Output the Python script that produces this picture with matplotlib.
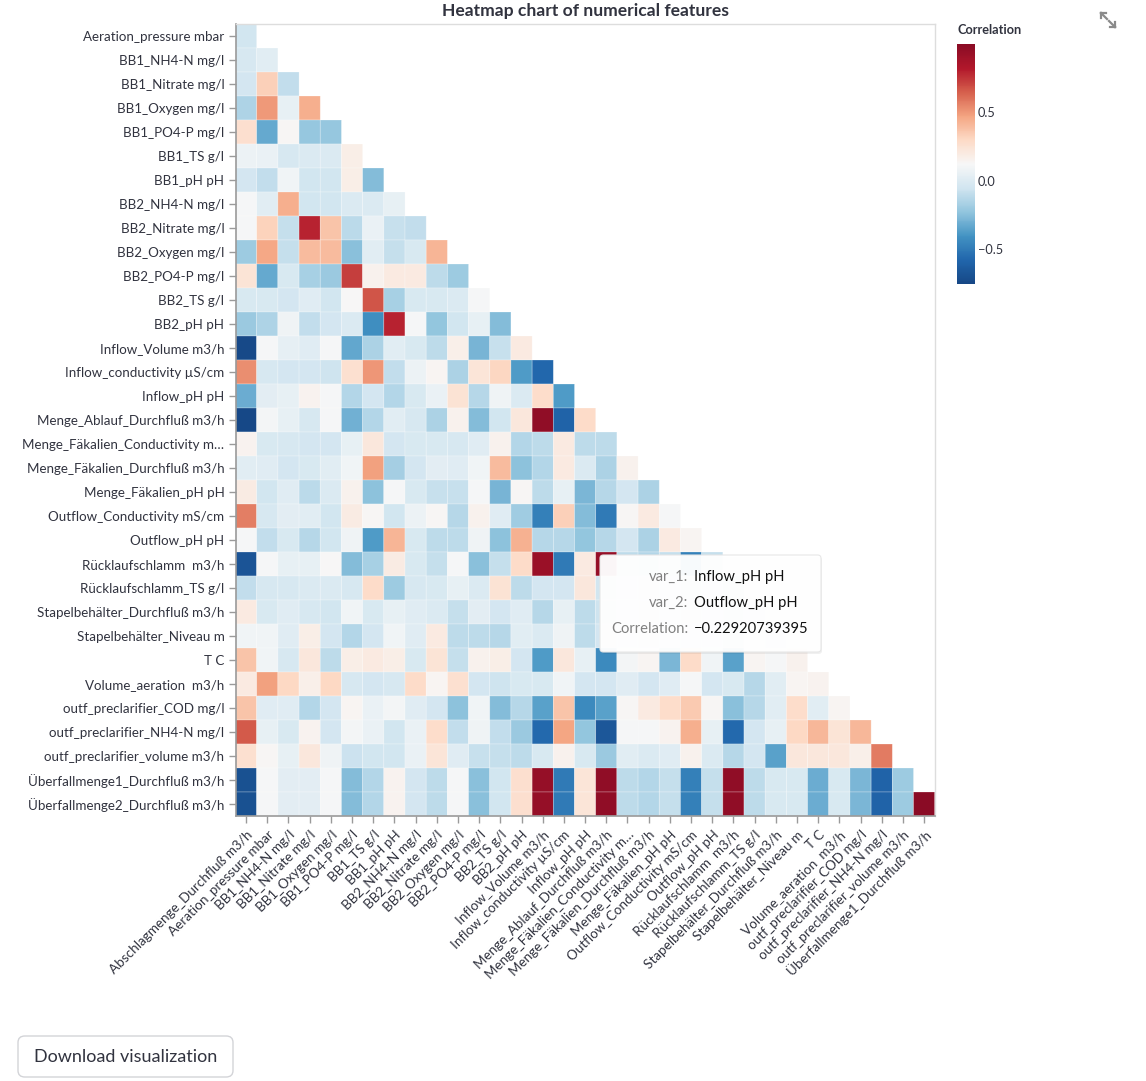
import numpy as np
import matplotlib.pyplot as plt
from matplotlib.colors import LinearSegmentedColormap, Normalize
from matplotlib.patches import FancyBboxPatch
from matplotlib.lines import Line2D

plt.rcParams['font.family'] = ['Lato', 'DejaVu Sans']

W, H = 1146, 1081

features = [
    "Abschlagmenge_Durchfluß m3/h", "Aeration_pressure mbar", "BB1_NH4-N mg/l",
    "BB1_Nitrate mg/l", "BB1_Oxygen mg/l", "BB1_PO4-P mg/l", "BB1_TS g/l", "BB1_pH pH",
    "BB2_NH4-N mg/l", "BB2_Nitrate mg/l", "BB2_Oxygen mg/l", "BB2_PO4-P mg/l",
    "BB2_TS g/l", "BB2_pH pH", "Inflow_Volume m3/h", "Inflow_conductivity µS/cm",
    "Inflow_pH pH", "Menge_Ablauf_Durchfluß m3/h", "Menge_Fäkalien_Conductivity m…",
    "Menge_Fäkalien_Durchfluß m3/h", "Menge_Fäkalien_pH pH", "Outflow_Conductivity mS/cm",
    "Outflow_pH pH", "Rücklaufschlamm  m3/h", "Rücklaufschlamm_TS g/l",
    "Stapelbehälter_Durchfluß m3/h", "Stapelbehälter_Niveau m", "T C",
    "Volume_aeration  m3/h", "outf_preclarifier_COD mg/l", "outf_preclarifier_NH4-N mg/l",
    "outf_preclarifier_volume m3/h", "Überfallmenge1_Durchfluß m3/h",
    "Überfallmenge2_Durchfluß m3/h",
]

# lower triangle of the correlation matrix: row i = features[i+1], columns features[0..i]
corr_rows = [
    [-0.05],
    [-0.03, 0.02],
    [-0.04, 0.33, -0.10],
    [-0.15, 0.50, 0.05, 0.44],
    [0.27, -0.33, 0.13, -0.22, -0.22],
    [0.07, 0.06, -0.03, -0.01, -0.01, 0.18],
    [-0.04, -0.10, 0.09, -0.05, -0.05, 0.18, -0.26],
    [0.11, 0.02, 0.44, -0.05, -0.05, -0.01, -0.01, 0.05],
    [0.11, 0.32, -0.09, 0.80, 0.37, -0.12, 0.06, -0.08, -0.10],
    [-0.20, 0.46, -0.09, 0.40, 0.40, -0.25, 0.02, -0.09, -0.02, 0.42],
    [0.24, -0.33, -0.02, -0.17, -0.21, 0.73, 0.16, 0.20, 0.20, -0.11, -0.20],
    [-0.02, -0.02, -0.04, 0.01, -0.05, 0.12, 0.67, -0.17, -0.02, -0.02, -0.01, 0.11],
    [-0.21, -0.15, 0.08, -0.10, -0.04, -0.01, -0.43, 0.80, 0.11, -0.23, -0.05, 0.05, -0.26],
    [-0.74, 0.11, 0.04, 0.01, 0.11, -0.34, -0.16, 0.02, -0.02, -0.11, 0.17, -0.29, -0.08, 0.20],
    [0.53, -0.03, -0.04, -0.04, -0.06, 0.26, 0.51, -0.10, 0.07, 0.14, -0.16, 0.23, 0.31, -0.38,
     -0.58],
    [-0.32, 0.03, 0.05, 0.15, 0.11, -0.14, -0.04, -0.14, -0.02, 0.06, 0.25, -0.13, 0.08, -0.01,
     0.28, -0.38],
    [-0.75, 0.10, 0.05, -0.03, 0.11, -0.30, -0.14, 0.02, -0.03, -0.16, 0.16, -0.26, -0.05, 0.22,
     0.97, -0.60, 0.29],
    [0.15, -0.02, -0.03, -0.04, -0.04, 0.05, 0.22, -0.04, -0.02, -0.02, -0.03, 0.01, 0.16, -0.14,
     -0.11, 0.20, -0.11, -0.11],
    [0.02, 0.01, -0.04, -0.02, 0.02, 0.09, 0.48, -0.18, -0.04, 0.03, 0.01, 0.09, 0.40, -0.24,
     -0.14, 0.20, -0.01, -0.16, 0.16],
    [0.19, -0.05, 0.01, -0.12, -0.01, 0.16, -0.24, 0.11, -0.02, -0.08, -0.08, 0.11, -0.29, 0.13,
     -0.11, 0.05, -0.28, -0.13, -0.04, -0.16],
    [0.57, -0.03, 0.03, 0.02, -0.05, 0.19, 0.13, -0.05, 0.07, 0.13, -0.13, 0.16, 0.01, -0.19,
     -0.48, 0.33, -0.26, -0.50, 0.13, 0.20, 0.11],
    [0.11, -0.10, -0.02, -0.13, -0.05, 0.08, -0.38, 0.42, -0.02, -0.11, -0.11, 0.08, -0.24, 0.43,
     -0.13, -0.13, -0.2292, -0.13, -0.04, -0.16, 0.20, 0.14],
    [-0.68, 0.11, 0.05, 0.05, 0.12, -0.26, -0.17, 0.19, -0.02, -0.09, 0.11, -0.25, -0.09, 0.29,
     0.93, -0.50, 0.20, 0.95, -0.11, -0.14, -0.09, -0.48, -0.09],
    [-0.10, -0.03, -0.03, -0.01, -0.01, -0.03, 0.29, -0.20, -0.03, -0.02, 0.05, -0.01, 0.25, -0.11,
     -0.04, -0.04, 0.22, -0.05, 0.05, -0.02, 0.03, -0.05, 0.05, -0.08],
    [0.20, -0.02, 0.01, -0.03, -0.05, 0.09, -0.02, 0.05, 0.01, -0.01, -0.09, 0.03, -0.04, 0.01,
     -0.13, 0.05, -0.11, -0.06, 0.02, -0.03, 0.04, -0.02, 0.01, -0.05, 0.03],
    [0.09, 0.09, 0.01, 0.18, -0.04, -0.14, -0.04, 0.09, 0.01, 0.20, -0.11, -0.11, -0.13, 0.02,
     -0.01, 0.08, -0.11, -0.04, 0.06, -0.03, 0.02, 0.00, 0.05, -0.06, 0.10, 0.04],
    [0.37, 0.09, -0.03, 0.22, -0.11, 0.18, 0.20, 0.18, -0.02, 0.24, -0.09, 0.16, 0.18, -0.04,
     -0.38, 0.22, 0.05, -0.44, 0.10, 0.14, -0.28, 0.29, 0.09, -0.36, 0.14, 0.11, 0.16],
    [0.20, 0.48, 0.30, 0.17, 0.30, -0.03, -0.04, -0.03, 0.29, 0.14, 0.26, -0.04, -0.06, -0.02,
     -0.02, 0.09, -0.04, -0.04, 0.01, -0.04, 0.01, 0.11, -0.04, -0.02, -0.13, 0.02, 0.14, 0.15],
    [0.37, 0.01, 0.01, -0.14, -0.04, 0.14, 0.06, 0.10, 0.01, -0.04, -0.24, 0.09, -0.26, -0.13,
     -0.36, 0.37, -0.44, -0.36, 0.13, 0.20, 0.28, 0.35, 0.13, -0.25, -0.13, 0.02, 0.28, 0.02, 0.14],
    [0.66, 0.05, -0.02, 0.15, -0.04, 0.10, 0.06, -0.05, 0.06, 0.28, -0.10, 0.08, -0.10, -0.21,
     -0.57, 0.47, -0.23, -0.67, 0.11, 0.11, 0.15, 0.44, 0.05, -0.57, -0.04, 0.05, 0.30, 0.41, 0.24,
     0.41],
    [0.26, 0.13, 0.05, 0.22, 0.08, -0.07, -0.05, -0.05, 0.06, 0.23, 0.01, -0.08, -0.09, -0.11,
     -0.02, 0.16, -0.02, -0.21, 0.02, -0.01, 0.01, 0.16, -0.01, -0.13, -0.04, -0.36, 0.22, 0.22,
     0.22, 0.17, 0.58],
    [-0.70, 0.11, 0.03, 0.03, 0.11, -0.26, -0.14, 0.15, -0.04, -0.11, 0.11, -0.25, -0.05, 0.27,
     0.95, -0.50, 0.23, 0.97, -0.11, -0.14, -0.09, -0.48, -0.09, 0.97, -0.11, -0.02, -0.02, -0.32,
     -0.02, -0.28, -0.60, -0.20],
    [-0.70, 0.11, 0.03, 0.03, 0.11, -0.26, -0.14, 0.15, -0.04, -0.11, 0.11, -0.25, -0.05, 0.27,
     0.95, -0.50, 0.23, 0.97, -0.11, -0.14, -0.09, -0.48, -0.09, 0.97, -0.11, -0.02, -0.02, -0.32,
     -0.02, -0.28, -0.60, -0.20, 1.00],
]

legend_ticks = [0.5, 0.0, -0.5]
tooltip_keys = ["var_1:", "var_2:", "Correlation:"]
tooltip_vals = ["Inflow_pH pH", "Outflow_pH pH", "\u22120.22920739395"]

cmap_colors = ['#164785', '#2166ac', '#4393c3', '#92c5de', '#d1e5f0', '#f7f7f7',
               '#fddbc7', '#f4a582', '#d6604d', '#b2182b', '#8a0b25']
vmin, vmax = -0.76, 1.0
TXT = '#31333f'


def fx(x):
    return x / W


def fy(y):
    return 1 - y / H


n = len(features) - 1
mat = np.full((n, n), np.nan)
for i, row in enumerate(corr_rows):
    mat[i, :len(row)] = row

fig = plt.figure(figsize=(W / 100, H / 100), dpi=100)
ax = fig.add_axes([fx(235.5), fy(816), 699.2 / W, 792 / H])
cmap = LinearSegmentedColormap.from_list('redblue', cmap_colors)
norm = Normalize(vmin, vmax)
mesh = ax.pcolor(np.ma.masked_invalid(mat), cmap=cmap, norm=norm,
                 edgecolors=(1, 1, 1, 0.35), linewidth=0.5)
ax.set_xlim(0, n)
ax.set_ylim(n, 0)
ax.set_xticks(np.arange(n) + 0.5)
ax.set_xticklabels(features[:-1], rotation=45, ha='right', rotation_mode='anchor',
                   fontsize=9.7, color=TXT)
ax.set_yticks(np.arange(n) + 0.5)
ax.set_yticklabels(features[1:], fontsize=9.6, color=TXT)
ax.tick_params(axis='both', length=5, width=1, color='#9a9a9a', pad=3)
ax.tick_params(axis='x', pad=4)
for side in ['left', 'bottom']:
    ax.spines[side].set_color('#9a9a9a')
    ax.spines[side].set_linewidth(1.2)
for side in ['top', 'right']:
    ax.spines[side].set_color('#dddddd')
    ax.spines[side].set_linewidth(1)

fig.text(fx(585), fy(11), "Heatmap chart of numerical features", ha='center', va='center',
         fontsize=12.6, fontweight='bold', color='#31333f')

# legend
cax = fig.add_axes([fx(956.7), fy(284.3), 18.3 / W, 240 / H])
cb = fig.colorbar(mesh, cax=cax)
cb.outline.set_visible(False)
cb.set_ticks(legend_ticks)
cb.set_ticklabels([f"{t:.1f}".replace('-', '\u2212') for t in legend_ticks])
cax.tick_params(length=0, labelsize=9.2, labelcolor=TXT, pad=2)
fig.text(fx(957), fy(30), "Correlation", ha='left', va='center', fontsize=9.2,
         fontweight='bold', color='#31333f')

# tooltip
shadow = FancyBboxPatch((fx(602), fy(654)), fx(220), 97 / H,
                        boxstyle='round,pad=0,rounding_size=0.003',
                        transform=fig.transFigure, facecolor='#000000', alpha=0.06,
                        edgecolor='none', zorder=9)
box = FancyBboxPatch((fx(600), fy(652)), fx(221), 97 / H,
                     boxstyle='round,pad=0,rounding_size=0.003',
                     transform=fig.transFigure, facecolor='white', alpha=0.97,
                     edgecolor='#e6e6e6', linewidth=0.8, zorder=10)
fig.patches.extend([shadow, box])
for k, (key, val) in enumerate(zip(tooltip_keys, tooltip_vals)):
    yy = fy(577 + 26 * k)
    fig.text(fx(688), yy, key, ha='right', va='center', fontsize=10.6, color='#808080',
             zorder=11)
    fig.text(fx(694), yy, val, ha='left', va='center', fontsize=10.6, color='#111111',
             zorder=11)

# expand icon
for seg in [((1101, 13), (1107, 19)), ((1101, 13), (1101, 18)), ((1101, 13), (1106, 13)),
            ((1109, 21), (1115, 27)), ((1115, 27), (1115, 22)), ((1115, 27), (1110, 27))]:
    (x0, y0), (x1, y1) = seg
    fig.add_artist(Line2D([fx(x0), fx(x1)], [fy(y0), fy(y1)], transform=fig.transFigure,
                          color='#8a8a8a', linewidth=1.6))

# download button
btn = FancyBboxPatch((fx(18), fy(1077)), fx(215), 41 / H,
                     boxstyle='round,pad=0,rounding_size=0.006',
                     transform=fig.transFigure, facecolor='white',
                     edgecolor='#d3d4d8', linewidth=1)
fig.patches.append(btn)
fig.text(fx(125.5), fy(1057), "Download visualization", ha='center', va='center',
         fontsize=13, color='#31333f')

fig.savefig('out.png', dpi=100)
